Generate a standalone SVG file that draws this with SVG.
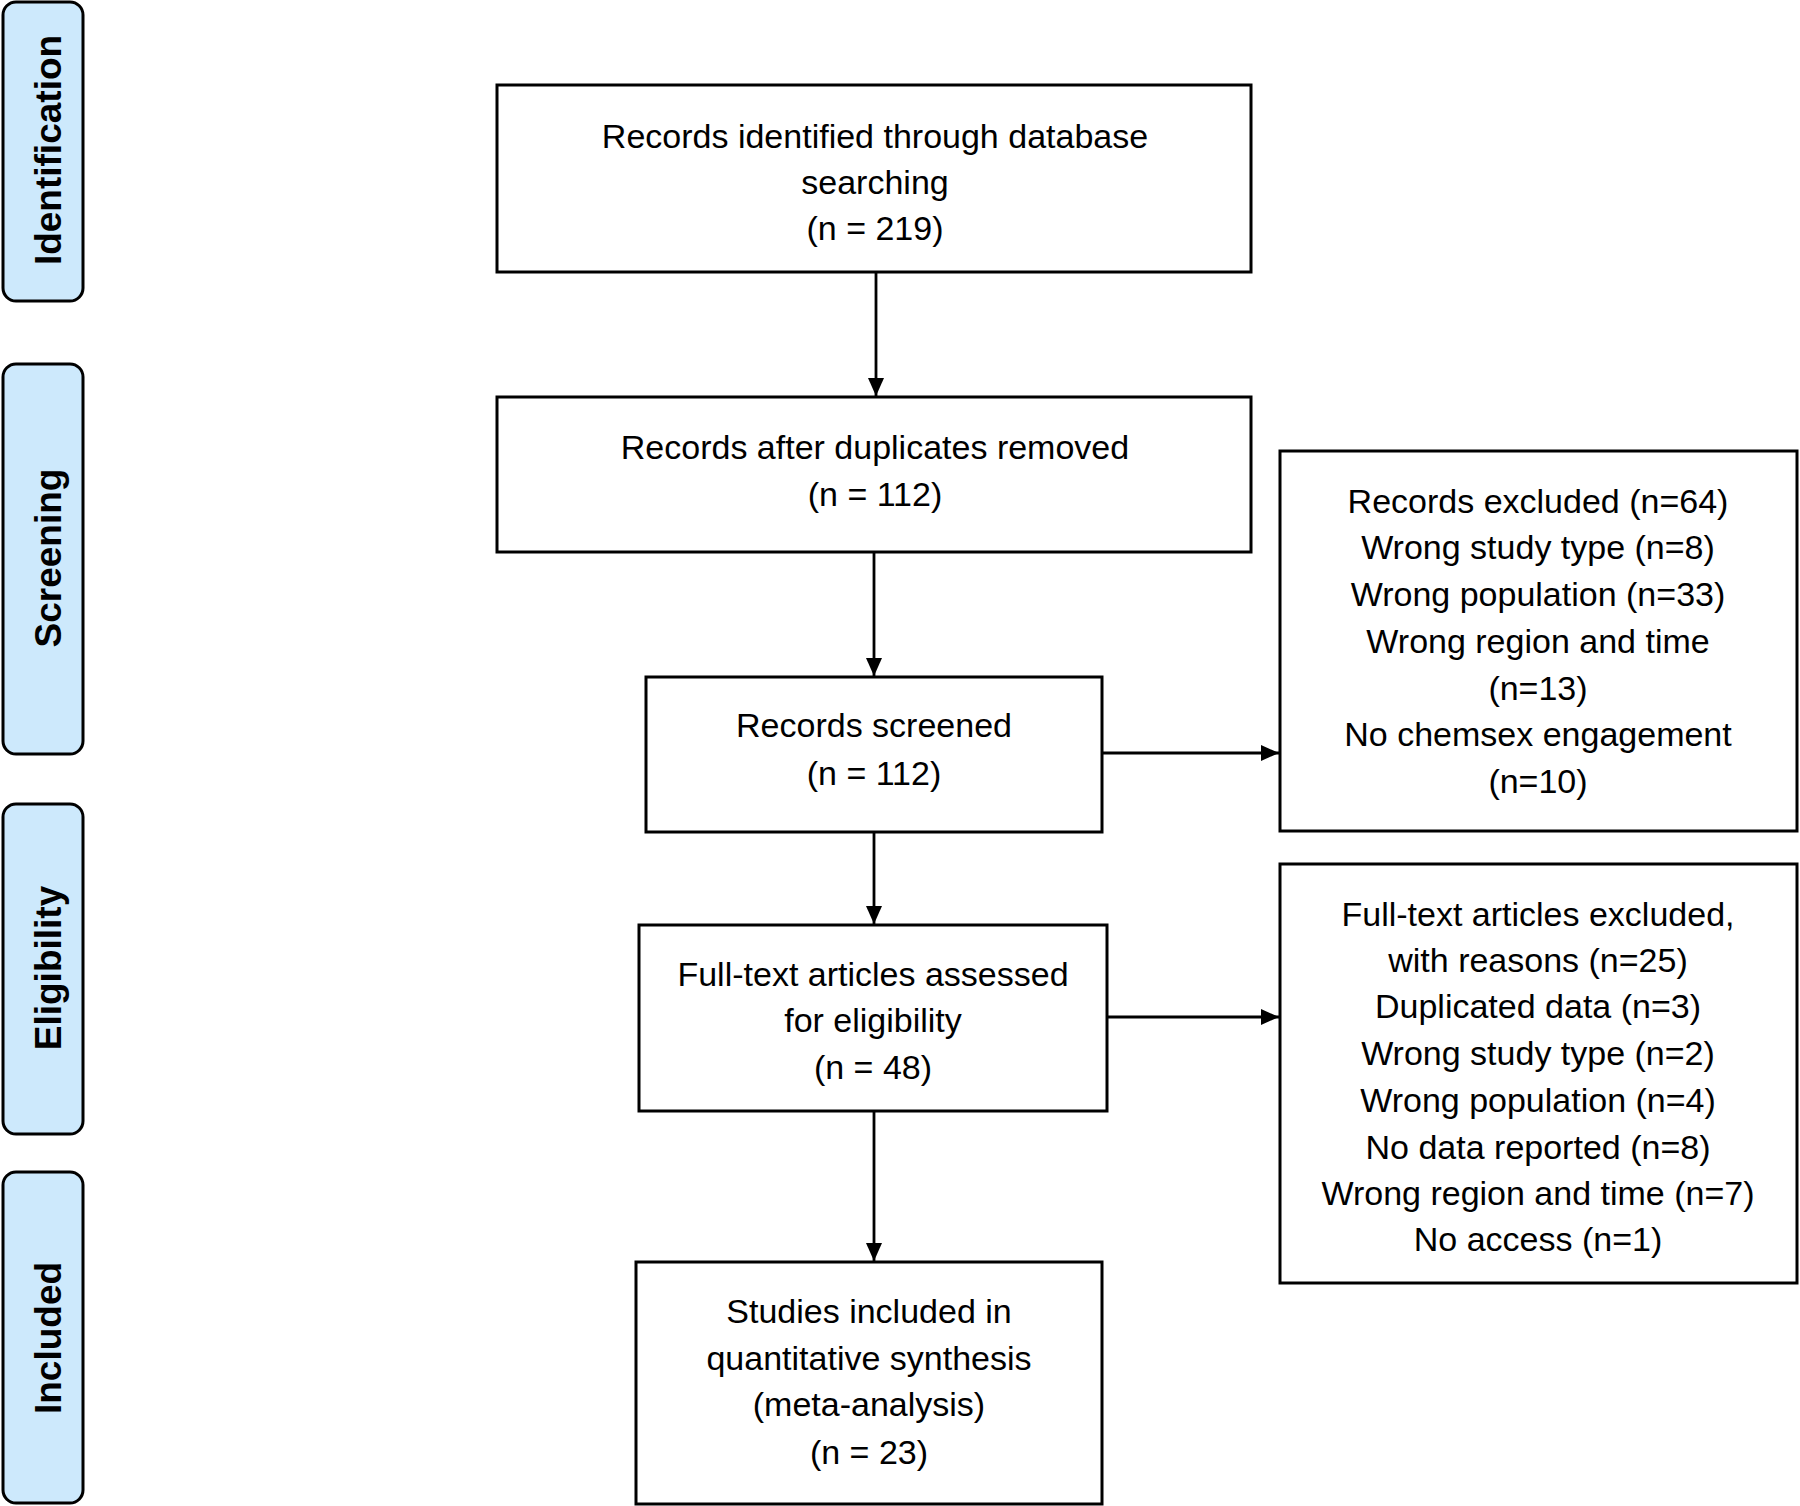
<svg xmlns="http://www.w3.org/2000/svg" width="1800" height="1506" viewBox="0 0 1800 1506">
<defs>
<style>
.box{fill:#ffffff;stroke:#000000;stroke-width:3}
.phase{fill:#cde9fc;stroke:#000000;stroke-width:3}
.t{font-family:"Liberation Sans",Arial,sans-serif;font-size:34px;fill:#000000;text-anchor:middle}
.p{font-family:"Liberation Sans",Arial,sans-serif;font-size:37px;font-weight:bold;fill:#000000;text-anchor:middle}
.c{stroke:#000000;stroke-width:2.8;fill:none}
</style>
<marker id="arr" viewBox="0 0 18 16" refX="18" refY="8" markerWidth="18" markerHeight="16" markerUnits="userSpaceOnUse" orient="auto">
<path d="M0,0 L18,8 L0,16 z" fill="#000000"/>
</marker>
</defs>
<rect width="1800" height="1506" fill="#ffffff"/>

<g id="phase-identification">
<rect class="phase" x="3" y="2" width="80" height="299" rx="13"/>
<text class="p" transform="translate(61,150) rotate(-90)">Identification</text>
</g>
<g id="phase-screening">
<rect class="phase" x="3" y="364" width="80" height="390" rx="13"/>
<text class="p" transform="translate(61,558) rotate(-90)">Screening</text>
</g>
<g id="phase-eligibility">
<rect class="phase" x="3" y="804" width="80" height="330" rx="13"/>
<text class="p" transform="translate(61,968) rotate(-90)">Eligibility</text>
</g>
<g id="phase-included">
<rect class="phase" x="3" y="1172" width="80" height="331" rx="13"/>
<text class="p" transform="translate(61,1338) rotate(-90)">Included</text>
</g>

<g id="connectors">
<line class="c" x1="876" y1="272" x2="876" y2="396" marker-end="url(#arr)"/>
<line class="c" x1="874" y1="552" x2="874" y2="676" marker-end="url(#arr)"/>
<line class="c" x1="874" y1="832" x2="874" y2="924" marker-end="url(#arr)"/>
<line class="c" x1="874" y1="1111" x2="874" y2="1261" marker-end="url(#arr)"/>
<line class="c" x1="1102" y1="753" x2="1279" y2="753" marker-end="url(#arr)"/>
<line class="c" x1="1107" y1="1017" x2="1279" y2="1017" marker-end="url(#arr)"/>
</g>

<g id="identified">
<rect class="box" x="497" y="85" width="754" height="187"/>
<text class="t" x="875" y="148">Records identified through database</text>
<text class="t" x="875" y="194">searching</text>
<text class="t" x="875" y="240">(n = 219)</text>
</g>
<g id="deduplicated">
<rect class="box" x="497" y="397" width="754" height="155"/>
<text class="t" x="875" y="459">Records after duplicates removed</text>
<text class="t" x="875" y="506">(n = 112)</text>
</g>
<g id="screened">
<rect class="box" x="646" y="677" width="456" height="155"/>
<text class="t" x="874" y="737">Records screened</text>
<text class="t" x="874" y="785">(n = 112)</text>
</g>
<g id="fulltext">
<rect class="box" x="639" y="925" width="468" height="186"/>
<text class="t" x="873" y="986">Full-text articles assessed</text>
<text class="t" x="873" y="1032">for eligibility</text>
<text class="t" x="873" y="1079">(n = 48)</text>
</g>
<g id="included">
<rect class="box" x="636" y="1262" width="466" height="242"/>
<text class="t" x="869" y="1323">Studies included in</text>
<text class="t" x="869" y="1370">quantitative synthesis</text>
<text class="t" x="869" y="1416">(meta-analysis)</text>
<text class="t" x="869" y="1464">(n = 23)</text>
</g>
<g id="records-excluded">
<rect class="box" x="1280" y="451" width="517" height="380"/>
<text class="t" x="1538" y="513">Records excluded (n=64)</text>
<text class="t" x="1538" y="559">Wrong study type (n=8)</text>
<text class="t" x="1538" y="606">Wrong population (n=33)</text>
<text class="t" x="1538" y="653">Wrong region and time</text>
<text class="t" x="1538" y="700">(n=13)</text>
<text class="t" x="1538" y="746">No chemsex engagement</text>
<text class="t" x="1538" y="793">(n=10)</text>
</g>
<g id="fulltext-excluded">
<rect class="box" x="1280" y="864" width="517" height="419"/>
<text class="t" x="1538" y="926">Full-text articles excluded,</text>
<text class="t" x="1538" y="972">with reasons (n=25)</text>
<text class="t" x="1538" y="1018">Duplicated data (n=3)</text>
<text class="t" x="1538" y="1065">Wrong study type (n=2)</text>
<text class="t" x="1538" y="1112">Wrong population (n=4)</text>
<text class="t" x="1538" y="1159">No data reported (n=8)</text>
<text class="t" x="1538" y="1205">Wrong region and time (n=7)</text>
<text class="t" x="1538" y="1251">No access (n=1)</text>
</g>
</svg>
